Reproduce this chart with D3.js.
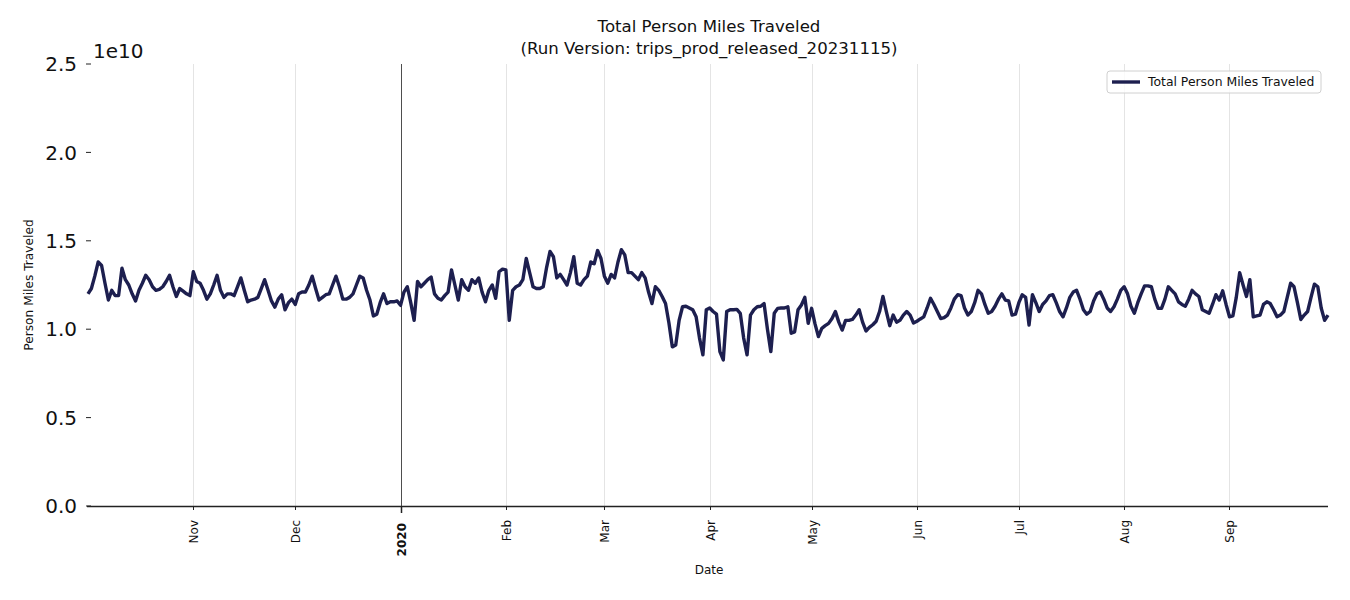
<!DOCTYPE html>
<html>
<head>
<meta charset="utf-8">
<script src="https://cdn.jsdelivr.net/npm/d3@7"></script>
<style>
  body { margin: 0; background: #fff; font-family: "DejaVu Sans", sans-serif; }
</style>
</head>
<body>
<svg id="chart" width="1350" height="600"></svg>
<script>
// daily person miles, in units of 1e10, Oct 1 2019 .. Sep 30 2020
const oct2019 = [1.20, 1.23, 1.30, 1.38, 1.36, 1.26, 1.165, 1.22, 1.19, 1.19,
  1.345, 1.28, 1.25, 1.20, 1.16, 1.22, 1.26, 1.305, 1.28, 1.24,
  1.22, 1.225, 1.24, 1.27, 1.305, 1.24, 1.185, 1.23, 1.215, 1.20, 1.19];
const nov2019 = [1.325, 1.27, 1.26, 1.22, 1.17, 1.20, 1.25, 1.305, 1.22, 1.18,
  1.20, 1.20, 1.19, 1.24, 1.29, 1.22, 1.155, 1.165, 1.17, 1.18,
  1.23, 1.28, 1.22, 1.16, 1.125, 1.17, 1.195, 1.11, 1.15, 1.17];
const dec2019 = [1.14, 1.20, 1.21, 1.21, 1.25, 1.30, 1.23, 1.165, 1.18, 1.195,
  1.20, 1.25, 1.30, 1.24, 1.17, 1.17, 1.18, 1.20, 1.25, 1.30,
  1.29, 1.22, 1.165, 1.075, 1.085, 1.15, 1.20, 1.145, 1.155, 1.155, 1.16];
const jan2020 = [1.135, 1.21, 1.24, 1.15, 1.05, 1.27, 1.24, 1.26, 1.28, 1.295,
  1.20, 1.175, 1.165, 1.19, 1.21, 1.335, 1.25, 1.165, 1.28, 1.24,
  1.22, 1.28, 1.26, 1.29, 1.21, 1.155, 1.22, 1.25, 1.175, 1.325, 1.34];
const feb2020 = [1.335, 1.05, 1.22, 1.24, 1.25, 1.28, 1.40, 1.32, 1.24, 1.23,
  1.23, 1.24, 1.35, 1.44, 1.41, 1.29, 1.31, 1.28, 1.25, 1.32,
  1.41, 1.26, 1.25, 1.28, 1.30, 1.38, 1.37, 1.445, 1.40];
const mar2020 = [1.30, 1.26, 1.31, 1.29, 1.38, 1.45, 1.42, 1.32, 1.32, 1.30,
  1.28, 1.32, 1.29, 1.21, 1.145, 1.24, 1.22, 1.185, 1.145, 1.035,
  0.90, 0.91, 1.05, 1.127, 1.13, 1.12, 1.11, 1.07, 0.95, 0.855, 1.11];
const apr2020 = [1.12, 1.10, 1.085, 0.873, 0.826, 1.10, 1.11, 1.11, 1.112, 1.09,
  0.95, 0.855, 1.08, 1.11, 1.127, 1.13, 1.145, 1.00, 0.873, 1.09,
  1.118, 1.12, 1.12, 1.127, 0.977, 0.985, 1.11, 1.137, 1.18, 1.033];
const may2020 = [1.118, 1.03, 0.958, 1.005, 1.02, 1.033, 1.06, 1.10, 1.04, 0.995,
  1.05, 1.05, 1.055, 1.08, 1.11, 1.04, 0.99, 1.01, 1.025, 1.045,
  1.10, 1.185, 1.10, 1.02, 1.08, 1.04, 1.05, 1.08, 1.10, 1.08, 1.035];
const jun2020 = [1.045, 1.058, 1.07, 1.12, 1.175, 1.14, 1.10, 1.06, 1.065, 1.08,
  1.12, 1.17, 1.195, 1.19, 1.12, 1.08, 1.10, 1.15, 1.22, 1.20,
  1.14, 1.09, 1.10, 1.13, 1.17, 1.20, 1.165, 1.16, 1.08, 1.085];
const jul2020 = [1.15, 1.195, 1.18, 1.024, 1.195, 1.15, 1.10, 1.14, 1.16, 1.19,
  1.195, 1.15, 1.10, 1.07, 1.12, 1.18, 1.21, 1.22, 1.17, 1.11,
  1.085, 1.10, 1.16, 1.20, 1.21, 1.17, 1.12, 1.10, 1.127, 1.17, 1.22];
const aug2020 = [1.24, 1.20, 1.13, 1.09, 1.15, 1.20, 1.245, 1.245, 1.24, 1.17,
  1.118, 1.118, 1.17, 1.24, 1.22, 1.20, 1.155, 1.14, 1.13, 1.17,
  1.22, 1.20, 1.185, 1.11, 1.10, 1.09, 1.14, 1.195, 1.165, 1.217, 1.14];
const sep2020 = [1.07, 1.075, 1.18, 1.32, 1.25, 1.185, 1.28, 1.07, 1.075, 1.08,
  1.14, 1.155, 1.145, 1.11, 1.07, 1.08, 1.10, 1.18, 1.26, 1.24,
  1.15, 1.055, 1.08, 1.10, 1.18, 1.255, 1.24, 1.12, 1.05, 1.08];

const yTicks = [0, 0.5e10, 1.0e10, 1.5e10, 2.0e10, 2.5e10];
const seriesName = "Total Person Miles Traveled";
const titleLines = ["Total Person Miles Traveled", "(Run Version: trips_prod_released_20231115)"];

const startDate = new Date(2019, 9, 1);
const endDate = new Date(2020, 8, 30);
const lineColor = "#1d1f4f";
const font = "DejaVu Sans";

const values = [oct2019, nov2019, dec2019, jan2020, feb2020, mar2020,
  apr2020, may2020, jun2020, jul2020, aug2020, sep2020].flat();
const data = values.map((v, i) => ({ date: d3.timeDay.offset(startDate, i), value: v * 1e10 }));

const plotLeft = 88, plotRight = 1328, plotTop = 64, plotBottom = 506;

const svg = d3.select("#chart");

const x = d3.scaleTime().domain([startDate, endDate]).range([plotLeft, plotRight]);
const y = d3.scaleLinear().domain([0, 2.5e10]).range([plotBottom, plotTop]);

const monthTicks = d3.timeMonth.range(new Date(2019, 10, 1), new Date(2020, 9, 1));
const isYear = d => d.getMonth() === 0;

// vertical grid
svg.append("g")
    .selectAll("line")
    .data(monthTicks)
    .join("line")
    .attr("x1", d => Math.round(x(d)) + 0.5)
    .attr("x2", d => Math.round(x(d)) + 0.5)
    .attr("y1", plotTop)
    .attr("y2", plotBottom)
    .attr("stroke", d => isYear(d) ? "#3a3a3a" : "#e4e4e4")
    .attr("stroke-width", d => isYear(d) ? 0.9 : 1);

// series
const line = d3.line()
    .x(d => x(d.date))
    .y(d => y(d.value));

svg.append("path")
    .datum(data)
    .attr("d", line)
    .attr("fill", "none")
    .attr("stroke", lineColor)
    .attr("stroke-width", 3.4)
    .attr("stroke-linejoin", "round");

// x axis spine + ticks
svg.append("line")
    .attr("x1", plotLeft - 1)
    .attr("x2", plotRight)
    .attr("y1", plotBottom + 0.5)
    .attr("y2", plotBottom + 0.5)
    .attr("stroke", "#222")
    .attr("stroke-width", 1.5);

const xt = svg.append("g")
    .selectAll("g")
    .data(monthTicks)
    .join("g")
    .attr("transform", d => `translate(${Math.round(x(d)) + 0.5},${plotBottom})`);
xt.append("line")
    .attr("y1", 0)
    .attr("y2", d => isYear(d) ? 7 : 4)
    .attr("stroke", "#222")
    .attr("stroke-width", d => isYear(d) ? 1.5 : 1);
xt.append("text")
    .attr("transform", d => `translate(0,${isYear(d) ? 17 : 14}) rotate(-90)`)
    .attr("text-anchor", "end")
    .attr("dy", "0.35em")
    .attr("font-family", font)
    .attr("font-size", 12)
    .attr("font-weight", d => isYear(d) ? "bold" : "normal")
    .attr("fill", "#111")
    .text(d => isYear(d) ? d3.timeFormat("%Y")(d) : d3.timeFormat("%b")(d));

// y ticks (no spine)
const yt = svg.append("g")
    .selectAll("g")
    .data(yTicks)
    .join("g")
    .attr("transform", d => `translate(0,${y(d)})`);
yt.append("line")
    .attr("x1", 86)
    .attr("x2", 91)
    .attr("stroke", "#222")
    .attr("stroke-width", 1);
yt.append("text")
    .attr("x", 77)
    .attr("dy", "0.36em")
    .attr("text-anchor", "end")
    .attr("font-family", font)
    .attr("font-size", 20)
    .attr("fill", "#111")
    .text(d => (d / 1e10).toFixed(1));

svg.append("text")
    .attr("x", 93)
    .attr("y", 58)
    .attr("font-family", font)
    .attr("font-size", 20)
    .attr("fill", "#111")
    .text("1e10");

// titles and labels
svg.append("g")
    .selectAll("text")
    .data(titleLines)
    .join("text")
    .attr("x", 709)
    .attr("y", (d, i) => 32 + i * 21.5)
    .attr("text-anchor", "middle")
    .attr("font-family", font)
    .attr("font-size", 16.6)
    .attr("fill", "#111")
    .text(d => d);

svg.append("text")
    .attr("x", 709)
    .attr("y", 574)
    .attr("text-anchor", "middle")
    .attr("font-family", font)
    .attr("font-size", 12)
    .attr("fill", "#111")
    .text("Date");

svg.append("text")
    .attr("transform", `translate(33,${(plotTop + plotBottom) / 2}) rotate(-90)`)
    .attr("text-anchor", "middle")
    .attr("font-family", font)
    .attr("font-size", 12.2)
    .attr("fill", "#111")
    .text("Person Miles Traveled");

// legend
const legend = svg.append("g").attr("transform", "translate(1107,71)");
legend.append("rect")
    .attr("width", 214)
    .attr("height", 22)
    .attr("rx", 3)
    .attr("fill", "#fff")
    .attr("fill-opacity", 0.8)
    .attr("stroke", "#d0d0d0");
legend.append("line")
    .attr("x1", 5)
    .attr("x2", 33)
    .attr("y1", 11)
    .attr("y2", 11)
    .attr("stroke", lineColor)
    .attr("stroke-width", 3.4);
legend.append("text")
    .attr("x", 41)
    .attr("y", 11)
    .attr("dy", "0.35em")
    .attr("font-family", font)
    .attr("font-size", 12.4)
    .attr("fill", "#111")
    .text(seriesName);
</script>
</body>
</html>
